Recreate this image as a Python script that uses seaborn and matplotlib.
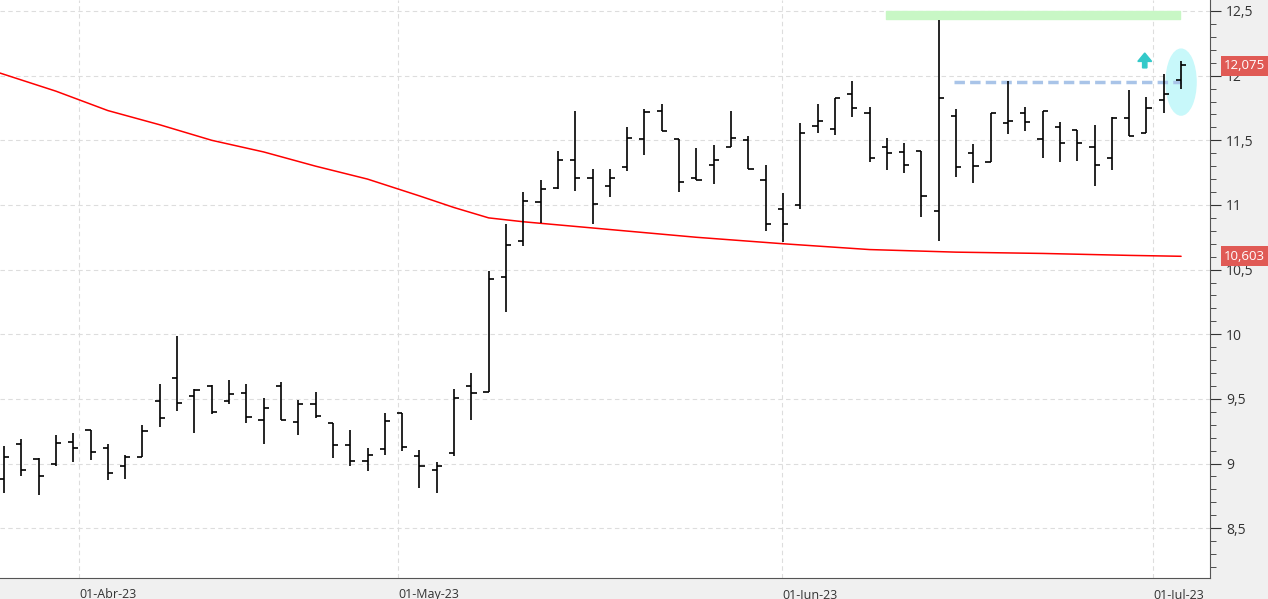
import numpy as np
import pandas as pd
import seaborn as sns
import matplotlib.pyplot as plt
from matplotlib.patches import Ellipse, FancyArrow
from matplotlib.ticker import FixedLocator, MultipleLocator, FuncFormatter

# daily OHLC bars (27-Mar-23 .. 04-Jul-23)
opens = [8.88, 9.15, 9.035, 9.00, 9.17, 9.26, 9.12, 8.98, 9.05, 9.48,
         9.66, 9.52, 9.60, 9.48, 9.545, 9.34, 9.60, 9.32, 9.46, 9.31,
         9.14, 9.02, 9.11, 9.39, 9.06, 8.95, 9.08, 9.60, 9.556, 10.44,
         10.72, 11.02, 11.13, 11.35, 11.21, 11.15, 11.29, 11.51, 11.73, 11.51,
         11.21, 11.31, 11.445, 11.50, 11.19, 10.97, 11.00, 11.61, 11.59, 11.86,
         11.71, 11.45, 11.41, 11.42, 10.95, 11.685, 11.40, 11.335, 11.63, 11.71,
         11.51, 11.60, 11.58, 11.45, 11.36, 11.675, 11.56, 11.81, 11.97]
highs = [9.136, 9.19, 9.04, 9.22, 9.24, 9.26, 9.15, 9.07, 9.30, 9.615,
         9.99, 9.58, 9.61, 9.65, 9.615, 9.51, 9.63, 9.49, 9.55, 9.31,
         9.26, 9.12, 9.39, 9.39, 9.105, 9.01, 9.58, 9.70, 10.49, 10.85,
         11.10, 11.19, 11.42, 11.73, 11.275, 11.275, 11.60, 11.74, 11.78, 11.51,
         11.44, 11.46, 11.73, 11.53, 11.31, 11.09, 11.63, 11.78, 11.825, 11.96,
         11.755, 11.52, 11.48, 11.42, 12.43, 11.74, 11.47, 11.71, 11.96, 11.755,
         11.73, 11.64, 11.58, 11.62, 11.68, 11.89, 11.835, 12.01, 12.11]
lows = [8.77, 8.90, 8.76, 8.98, 9.01, 9.03, 8.87, 8.88, 9.05, 9.285,
        9.41, 9.24, 9.38, 9.46, 9.31, 9.15, 9.34, 9.22, 9.355, 9.04,
        8.98, 8.94, 9.07, 9.10, 8.81, 8.77, 9.06, 9.34, 9.556, 10.17,
        10.685, 10.86, 11.12, 11.11, 10.855, 11.06, 11.26, 11.39, 11.57, 11.10,
        11.19, 11.16, 11.445, 11.275, 10.80, 10.71, 10.97, 11.56, 11.54, 11.68,
        11.33, 11.27, 11.25, 10.91, 10.72, 11.22, 11.17, 11.335, 11.55, 11.57,
        11.36, 11.33, 11.34, 11.15, 11.27, 11.53, 11.56, 11.71, 11.90]
closes = [9.05, 8.95, 8.90, 9.16, 9.12, 9.09, 8.93, 9.05, 9.25, 9.35,
          9.47, 9.57, 9.40, 9.54, 9.36, 9.43, 9.34, 9.46, 9.37, 9.14,
          9.02, 9.07, 9.33, 9.13, 8.98, 8.98, 9.51, 9.545, 10.43, 10.69,
          11.03, 11.12, 11.345, 11.21, 11.01, 11.21, 11.52, 11.72, 11.57, 11.18,
          11.19, 11.35, 11.515, 11.275, 10.85, 10.85, 11.56, 11.65, 11.825, 11.75,
          11.36, 11.40, 11.31, 11.07, 11.825, 11.29, 11.30, 11.71, 11.65, 11.64,
          11.73, 11.48, 11.48, 11.31, 11.675, 11.53, 11.75, 11.855, 12.08]

# moving average (red line), sampled along the bars
ma_idx = [-0.23, 3, 6, 9, 12, 15, 18, 21, 24, 26, 28, 30, 35, 40, 45, 50, 55, 60, 65, 68]
ma_val = [12.02, 11.88, 11.73, 11.62, 11.50, 11.41, 11.30, 11.20, 11.07, 10.98,
          10.90, 10.87, 10.81, 10.75, 10.70, 10.655, 10.635, 10.625, 10.61, 10.603]

month_pos = [4.33, 22.76, 44.95, 66.38]
month_labels = ["01-Abr-23", "01-May-23", "01-Jun-23", "01-Jul-23"]

bars = pd.DataFrame({"open": opens, "high": highs, "low": lows, "close": closes})
bars["i"] = np.arange(len(bars))

sns.set_style("white")
plt.rcParams["font.family"] = ["Open Sans", "DejaVu Sans"]

fig = plt.figure(figsize=(12.68, 5.99), dpi=100)
fig.patch.set_facecolor("#f0f0f0")
ax = fig.add_axes([0, 21 / 599, 1210 / 1268, 578 / 599])
ax.set_facecolor("white")

tick = 0.3
ax.vlines(bars["i"], bars["low"], bars["high"], color="black", lw=1.2, zorder=3)
ax.hlines(bars["open"], bars["i"] - tick, bars["i"], color="black", lw=1.2, zorder=3)
ax.hlines(bars["close"], bars["i"], bars["i"] + tick, color="black", lw=1.2, zorder=3)

ma = pd.DataFrame({"i": ma_idx, "ma": ma_val})
sns.lineplot(data=ma, x="i", y="ma", color="red", lw=1.1, ax=ax, zorder=2)

# drawn annotations
ax.fill_between([50.95, 67.95], 12.44, 12.50, color="#c8f7c5", zorder=1)
ax.plot([54.9, 68.0], [11.95, 11.95], color="#a9c4e8", lw=2.5, ls=(0, (3, 1.5)), zorder=2)
ax.add_patch(Ellipse((68.0, 11.95), 1.73, 0.51, color="#c8f8fa", zorder=1))
ax.add_patch(FancyArrow(65.9, 12.06, 0, 0.05, width=0.25, head_width=0.8,
                        head_length=0.065, color="#33c9c9", zorder=4))

ax.set_xlim(-0.23, 69.67)
ax.set_ylim(8.115, 12.585)
ax.set_xlabel("")
ax.set_ylabel("")

ax.yaxis.tick_right()
ax.yaxis.set_major_locator(MultipleLocator(0.5))
ax.yaxis.set_minor_locator(MultipleLocator(0.1))
ax.yaxis.set_major_formatter(FuncFormatter(lambda v, p: f"{v:g}".replace(".", ",")))
ax.tick_params(axis="y", which="major", length=8, labelsize=10, colors="#333333")
ax.tick_params(axis="y", which="minor", length=4, color="#333333")
ax.xaxis.set_major_locator(FixedLocator(month_pos))
ax.set_xticklabels(month_labels, ha="left")
ax.tick_params(axis="x", length=4, labelsize=9, pad=3, colors="#333333")
ax.grid(True, color="#dddddd", ls=(0, (4, 3)), lw=0.8)
for s in ["top", "left"]:
    ax.spines[s].set_visible(False)
ax.spines["right"].set_color("#555555")
ax.spines["bottom"].set_color("#555555")

# last-value labels
for v, txt in [(12.075, "12,075"), (10.603, "10,603")]:
    ax.annotate(txt, xy=(1.0, v), xycoords=("axes fraction", "data"),
                xytext=(10, 0), textcoords="offset points", va="center", ha="left",
                color="white", fontsize=9.5,
                bbox=dict(boxstyle="square,pad=0.25", fc="#e05a55", ec="none"))

fig.savefig("out.png", dpi=100, facecolor=fig.get_facecolor())
